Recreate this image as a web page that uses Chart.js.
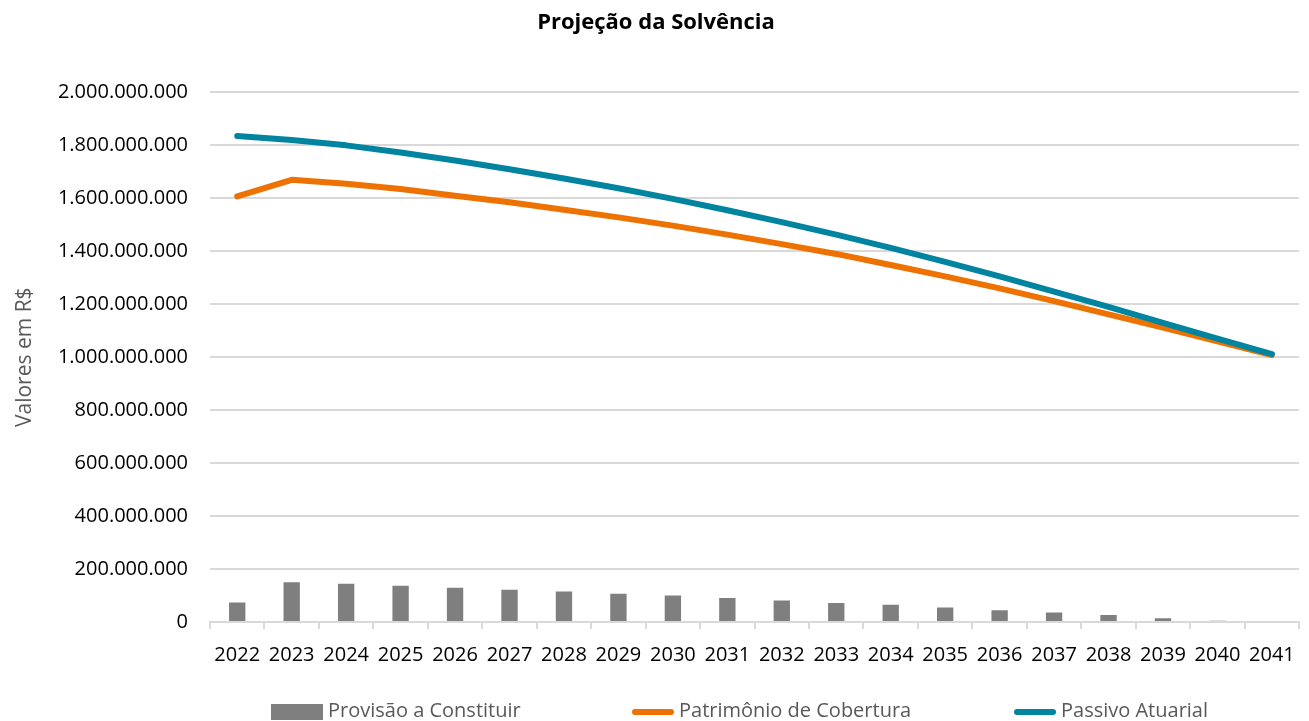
<!DOCTYPE html>
<html lang="pt-BR">
<head>
    <meta charset="UTF-8">
    <title>Projeção da Solvência</title>
    <script src="https://cdn.jsdelivr.net/npm/chart.js"></script>
    <style>
        html, body { margin: 0; padding: 0; background: #ffffff; }
        .wrap { position: relative; width: 1309px; height: 721px; }
        .legend {
            position: absolute; left: 0; top: 699px; width: 1309px; height: 22px;
            font-family: "Open Sans", sans-serif; font-size: 20px; color: #595959;
        }
        .legend span.item { position: absolute; top: 0; white-space: nowrap; line-height: 22px; }
        .legend i { display: inline-block; vertical-align: middle; margin-right: 5px; }
    </style>
</head>
<body>
    <div class="wrap">
        <canvas id="solvencia" width="1309" height="721"></canvas>
        <div class="legend" id="legend"></div>
    </div>

    <script>
        // anos da projeção
        const anos = ["2022", "2023", "2024", "2025", "2026", "2027", "2028", "2029", "2030", "2031",
                      "2032", "2033", "2034", "2035", "2036", "2037", "2038", "2039", "2040", "2041"];

        // valores em R$
        const provisaoConstituir = [74000000, 150000000, 144000000, 137000000, 129000000, 122000000, 115000000,
                                    107000000, 100000000, 91000000, 81000000, 72000000, 65000000, 55000000,
                                    44000000, 36000000, 26000000, 14000000, 5000000, 0];
        const patrimonioCobertura = [1607000000, 1670000000, 1655000000, 1635000000, 1610000000, 1585000000,
                                     1557000000, 1528000000, 1497000000, 1463000000, 1427000000, 1390000000,
                                     1348000000, 1305000000, 1260000000, 1212000000, 1162000000, 1112000000,
                                     1060000000, 1008000000];
        const passivoAtuarial = [1835000000, 1820000000, 1800000000, 1773000000, 1743000000, 1710000000,
                                 1675000000, 1638000000, 1598000000, 1555000000, 1510000000, 1463000000,
                                 1413000000, 1360000000, 1305000000, 1248000000, 1190000000, 1130000000,
                                 1070000000, 1012000000];

        const nomes = ["Provisão a Constituir", "Patrimônio de Cobertura", "Passivo Atuarial"];
        const cores = ["#7f7f7f", "#ee7202", "#00849f"];

        function formatarBR(v) {
            return String(Math.round(v)).replace(/\B(?=(\d{3})+(?!\d))/g, ".");
        }

        const fonte = "'Open Sans', sans-serif";

        new Chart(document.getElementById("solvencia"), {
            data: {
                labels: anos,
                datasets: [
                    {
                        type: "bar",
                        label: nomes[0],
                        data: provisaoConstituir,
                        backgroundColor: cores[0],
                        categoryPercentage: 1,
                        barPercentage: 0.3,
                        order: 2
                    },
                    {
                        type: "line",
                        label: nomes[1],
                        data: patrimonioCobertura,
                        borderColor: cores[1],
                        backgroundColor: cores[1],
                        borderWidth: 6,
                        borderCapStyle: "round",
                        borderJoinStyle: "round",
                        pointRadius: 0,
                        tension: 0,
                        order: 1
                    },
                    {
                        type: "line",
                        label: nomes[2],
                        data: passivoAtuarial,
                        borderColor: cores[2],
                        backgroundColor: cores[2],
                        borderWidth: 6,
                        borderCapStyle: "round",
                        borderJoinStyle: "round",
                        pointRadius: 0,
                        tension: 0,
                        order: 0
                    }
                ]
            },
            options: {
                responsive: false,
                animation: false,
                layout: { padding: { left: 12, right: 9, top: 0, bottom: 40 } },
                plugins: {
                    legend: { display: false },
                    tooltip: { enabled: false },
                    title: {
                        display: true,
                        text: "Projeção da Solvência",
                        color: "#000000",
                        font: { family: fonte, size: 22, weight: "bold" },
                        padding: { top: 10, bottom: 56 }
                    }
                },
                scales: {
                    x: {
                        grid: {
                            offset: true,
                            drawOnChartArea: false,
                            drawTicks: true,
                            tickLength: 7,
                            color: "#d9d9d9",
                            lineWidth: 2
                        },
                        border: { color: "#d9d9d9", width: 2 },
                        ticks: {
                            color: "#000000",
                            font: { family: fonte, size: 20 },
                            maxRotation: 0,
                            autoSkip: false,
                            padding: 14
                        }
                    },
                    y: {
                        min: 0,
                        max: 2000000000,
                        grid: { color: "#d9d9d9", lineWidth: 2, drawTicks: false },
                        border: { display: false },
                        ticks: {
                            stepSize: 200000000,
                            color: "#000000",
                            font: { family: fonte, size: 20 },
                            padding: 22,
                            callback: (v) => formatarBR(v)
                        },
                        title: {
                            display: true,
                            text: "Valores em R$",
                            color: "#595959",
                            font: { family: fonte, size: 21 },
                            padding: 0
                        },
                        afterFit: (s) => { s.width = 198; }
                    }
                }
            }
        });

        // legenda embaixo do grafico
        const legenda = document.getElementById("legend");
        const posicoes = [271, 632, 1014];
        nomes.forEach((nome, i) => {
            const item = document.createElement("span");
            item.className = "item";
            item.style.left = posicoes[i] + "px";
            const marca = document.createElement("i");
            if (i === 0) {
                marca.style.cssText = "width:52px;height:16px;background:" + cores[i];
            } else {
                marca.style.cssText = "width:42px;height:6px;border-radius:3px;background:" + cores[i];
            }
            item.appendChild(marca);
            item.appendChild(document.createTextNode(nome));
            legenda.appendChild(item);
        });
    </script>
</body>
</html>
